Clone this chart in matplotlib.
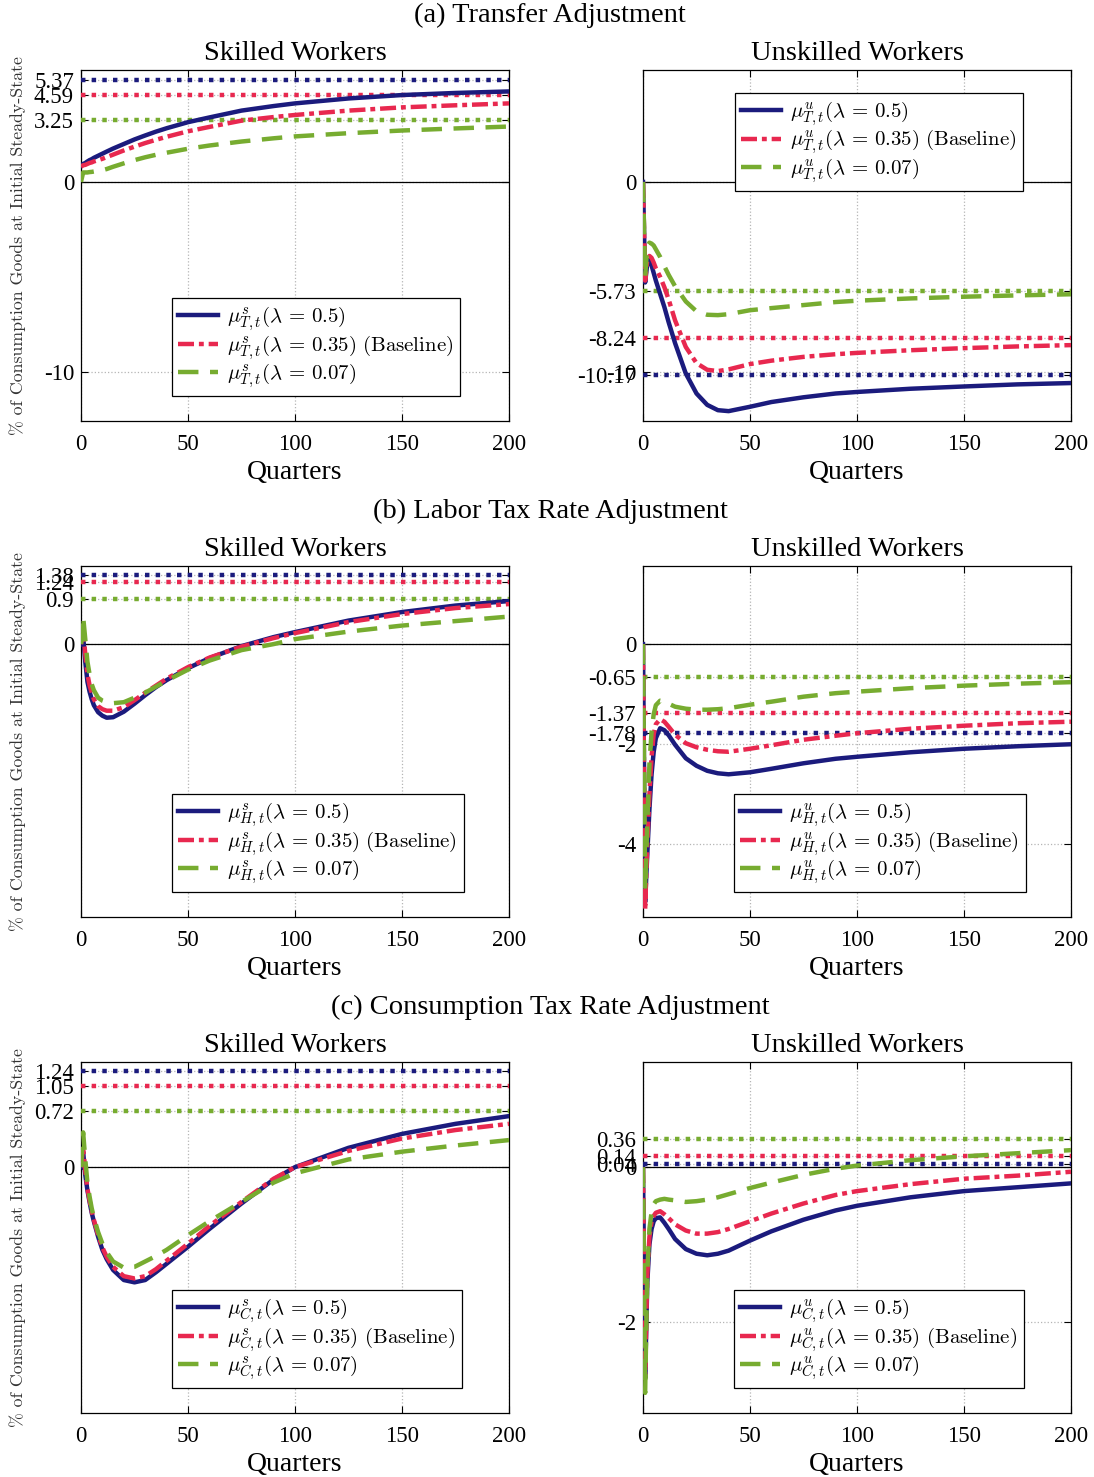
import matplotlib.pyplot as plt

plt.rcParams['font.family'] = ['Liberation Serif', 'DejaVu Serif']
plt.rcParams['mathtext.fontset'] = 'cm'
plt.rcParams['axes.unicode_minus'] = False

quarters = [0, 1, 2, 3, 4, 5, 6, 8, 10, 12, 15, 20, 25, 30, 35, 40, 50, 60, 75, 90, 100, 125, 150, 175, 200]
lambdas = ['0.5', '0.35', '0.07']

# (a) transfer adjustment
transfer_skilled_05 = [0.85, 0.95, 1.0, 1.08, 1.15, 1.2, 1.27, 1.38, 1.49, 1.6, 1.76, 2.0, 2.24, 2.45, 2.65, 2.83,
                       3.15, 3.4, 3.76, 4.0, 4.14, 4.4, 4.58, 4.69, 4.77]
transfer_skilled_035 = [0.8, 0.88, 0.9, 0.95, 1.0, 1.03, 1.08, 1.15, 1.22, 1.31, 1.44, 1.66, 1.86, 2.05, 2.22, 2.38,
                        2.67, 2.9, 3.23, 3.42, 3.53, 3.76, 3.93, 4.04, 4.14]
transfer_skilled_007 = [0.0, 0.5, 0.5, 0.5, 0.52, 0.53, 0.55, 0.58, 0.62, 0.68, 0.8, 0.98, 1.15, 1.3, 1.43, 1.54,
                        1.75, 1.92, 2.13, 2.3, 2.4, 2.57, 2.71, 2.82, 2.92]
transfer_unskilled_05 = [0, -5.3, -4.3, -4.1, -4.4, -4.8, -5.2, -5.9, -6.6, -7.4, -8.5, -10.1, -11.15, -11.75, -12.03,
                         -12.08, -11.85, -11.6, -11.35, -11.15, -11.07, -10.9, -10.78, -10.67, -10.6]
transfer_unskilled_035 = [0, -5.2, -4.1, -3.9, -4.0, -4.25, -4.55, -5.0, -5.55, -6.2, -7.3, -8.7, -9.55, -9.9, -9.97,
                          -9.88, -9.6, -9.42, -9.22, -9.08, -9.01, -8.87, -8.76, -8.67, -8.6]
transfer_unskilled_007 = [0, -5.0, -3.4, -3.2, -3.25, -3.35, -3.55, -3.95, -4.45, -4.9, -5.5, -6.3, -6.82, -7.0, -7.02,
                          -6.97, -6.76, -6.65, -6.49, -6.33, -6.26, -6.14, -6.05, -5.98, -5.92]
transfer_skilled_lr = [5.37, 4.59, 3.25]
transfer_unskilled_lr = [-10.17, -8.24, -5.73]

# (b) labor tax rate adjustment
labor_skilled_05 = [0, 0.15, -0.35, -0.75, -0.95, -1.1, -1.22, -1.36, -1.43, -1.47, -1.46, -1.35, -1.19, -1.02, -0.86,
                    -0.72, -0.48, -0.28, -0.04, 0.14, 0.24, 0.47, 0.64, 0.77, 0.86]
labor_skilled_035 = [0, 0.28, -0.2, -0.6, -0.82, -0.97, -1.1, -1.24, -1.3, -1.33, -1.33, -1.26, -1.12, -0.97, -0.83,
                     -0.69, -0.46, -0.27, -0.05, 0.12, 0.22, 0.44, 0.6, 0.72, 0.8]
labor_skilled_007 = [0, 0.55, 0.1, -0.35, -0.6, -0.8, -0.92, -1.07, -1.13, -1.16, -1.18, -1.16, -1.07, -0.97, -0.85,
                     -0.73, -0.51, -0.33, -0.12, 0.0, 0.1, 0.25, 0.37, 0.46, 0.55]
labor_unskilled_05 = [0, -5.15, -4.2, -3.3, -2.6, -2.15, -1.88, -1.68, -1.72, -1.82, -2.01, -2.28, -2.43, -2.53, -2.58,
                      -2.6, -2.56, -2.49, -2.38, -2.29, -2.25, -2.16, -2.09, -2.04, -2.0]
labor_unskilled_035 = [0, -5.3, -4.0, -3.0, -2.25, -1.8, -1.6, -1.5, -1.55, -1.65, -1.81, -1.98, -2.06, -2.11, -2.14,
                       -2.15, -2.09, -2.02, -1.91, -1.83, -1.78, -1.69, -1.63, -1.58, -1.55]
labor_unskilled_007 = [0, -4.9, -3.6, -2.4, -1.75, -1.4, -1.22, -1.13, -1.15, -1.19, -1.25, -1.29, -1.31, -1.31, -1.3,
                       -1.28, -1.21, -1.15, -1.05, -0.98, -0.95, -0.88, -0.83, -0.79, -0.76]
labor_skilled_lr = [1.38, 1.24, 0.9]
labor_unskilled_lr = [-1.78, -1.37, -0.65]

# (c) consumption tax rate adjustment
cons_skilled_05 = [0, 0.2, -0.1, -0.3, -0.45, -0.59, -0.7, -0.9, -1.07, -1.19, -1.33, -1.46, -1.49, -1.46, -1.36,
                   -1.25, -1.03, -0.8, -0.47, -0.16, 0.0, 0.25, 0.43, 0.56, 0.66]
cons_skilled_035 = [0, 0.25, -0.05, -0.28, -0.43, -0.57, -0.68, -0.88, -1.04, -1.16, -1.29, -1.41, -1.44, -1.41, -1.32,
                    -1.21, -0.99, -0.76, -0.45, -0.15, 0.0, 0.21, 0.37, 0.48, 0.56]
cons_skilled_007 = [0, 0.45, 0.1, -0.2, -0.38, -0.53, -0.65, -0.84, -0.99, -1.1, -1.22, -1.3, -1.29, -1.22, -1.15,
                    -1.07, -0.88, -0.7, -0.45, -0.2, -0.08, 0.1, 0.2, 0.28, 0.35]
cons_unskilled_05 = [0, -2.73, -1.5, -1.0, -0.8, -0.7, -0.66, -0.65, -0.72, -0.8, -0.93, -1.06, -1.12, -1.14, -1.12,
                     -1.08, -0.95, -0.83, -0.68, -0.56, -0.5, -0.39, -0.31, -0.26, -0.21]
cons_unskilled_035 = [0, -2.7, -1.4, -0.9, -0.7, -0.63, -0.59, -0.57, -0.61, -0.66, -0.74, -0.82, -0.86, -0.86, -0.84,
                      -0.8, -0.7, -0.6, -0.47, -0.36, -0.31, -0.22, -0.15, -0.11, -0.06]
cons_unskilled_007 = [0, -2.92, -1.35, -0.8, -0.58, -0.48, -0.44, -0.42, -0.41, -0.42, -0.43, -0.45, -0.44, -0.42,
                      -0.39, -0.35, -0.27, -0.2, -0.1, -0.02, 0.02, 0.09, 0.14, 0.18, 0.22]
cons_skilled_lr = [1.24, 1.05, 0.72]
cons_unskilled_lr = [0.04, 0.14, 0.36]

section_titles = ['(a) Transfer Adjustment', '(b) Labor Tax Rate Adjustment',
                  '(c) Consumption Tax Rate Adjustment']
instruments = ['T', 'H', 'C']
ylims = [(-12.6, 5.9), (-5.45, 1.56), (-3.18, 1.36)]

panels = [
    [('s', [transfer_skilled_05, transfer_skilled_035, transfer_skilled_007], transfer_skilled_lr,
      [-10, 0, 3.25, 4.59, 5.37], 'lower'),
     ('u', [transfer_unskilled_05, transfer_unskilled_035, transfer_unskilled_007], transfer_unskilled_lr,
      [-10.17, -10, -8.24, -5.73, 0], 'upper')],
    [('s', [labor_skilled_05, labor_skilled_035, labor_skilled_007], labor_skilled_lr,
      [0, 0.9, 1.24, 1.38], 'lower'),
     ('u', [labor_unskilled_05, labor_unskilled_035, labor_unskilled_007], labor_unskilled_lr,
      [-4, -2, -1.78, -1.37, -0.65, 0], 'lower')],
    [('s', [cons_skilled_05, cons_skilled_035, cons_skilled_007], cons_skilled_lr,
      [0, 0.72, 1.05, 1.24], 'lower'),
     ('u', [cons_unskilled_05, cons_unskilled_035, cons_unskilled_007], cons_unskilled_lr,
      [-2, 0, 0.04, 0.14, 0.36], 'lower')],
]

colors = ['#1b1b7d', '#e8284f', '#77ac30']
styles = [dict(linestyle='-'),
          dict(linestyle=(0, (3.6, 1.1, 1.1, 1.1))),
          dict(linestyle=(0, (4.6, 2.6)))]

fig = plt.figure(figsize=(10.94, 14.77), dpi=100)
W, H = 1094, 1477
ax_left = [81, 643]
ax_top = [70, 566, 1062]
ax_w, ax_h = 428, 351
title_y = [15, 511, 1007]

for r, row in enumerate(panels):
    fig.text(550 / W, 1 - title_y[r] / H, section_titles[r], ha='center', va='center', fontsize=20.5)
    for c, (grp, series, longrun, yticks, legpos) in enumerate(row):
        ax = fig.add_axes([ax_left[c] / W, 1 - (ax_top[r] + ax_h) / H, ax_w / W, ax_h / H])
        ax.set_axisbelow(True)
        ax.grid(True, linestyle=':', color='#b5b5b5', linewidth=0.9)
        ax.axhline(0, color='black', linewidth=0.9, zorder=2)
        for v, col in zip(longrun, colors):
            ax.axhline(v, color=col, linestyle=(0, (1, 1.4)), linewidth=3.2, zorder=3)
        for vals, col, st, lam in zip(series, colors, styles, lambdas):
            lab = r'$\mu^{%s}_{%s,t}(\lambda\,=\,%s)$' % (grp, instruments[r], lam)
            if lam == '0.35':
                lab = r'$\mu^{%s}_{%s,t}(\lambda\,=\,%s)\ \mathrm{(Baseline)}$' % (grp, instruments[r], lam)
            ax.plot(quarters, vals, color=col, linewidth=3.2, label=lab, zorder=4, **st)
        ax.set_xlim(0, 200)
        ax.set_ylim(*ylims[r])
        ax.set_xticks([0, 50, 100, 150, 200])
        ax.set_yticks(yticks)
        ax.set_yticklabels(['%g' % v for v in yticks])
        ax.tick_params(direction='in', top=True, right=True, length=5, width=0.8, labelsize=16.5)
        ax.tick_params(axis='x', pad=9)
        ax.tick_params(axis='y', pad=5)
        for sp in ax.spines.values():
            sp.set_linewidth(0.9)
        ax.set_title('Skilled Workers' if grp == 's' else 'Unskilled Workers', fontsize=20.5, pad=7)
        ax.set_xlabel('Quarters', fontsize=20, labelpad=4)
        if legpos == 'lower':
            anchor, loc = (0.213, 0.07), 'lower left'
        else:
            anchor, loc = (0.215, 0.935), 'upper left'
        leg = ax.legend(loc=loc, bbox_to_anchor=anchor, fontsize=15, handlelength=1.9,
                        handletextpad=0.45, labelspacing=0.0, borderpad=0.3, borderaxespad=0,
                        fancybox=False, framealpha=1, edgecolor='black')
        leg.get_frame().set_linewidth(0.9)
        leg.set_zorder(10)
    fig.text(18 / W, 1 - (ax_top[r] + ax_h / 2) / H, '% of Consumption Goods at Initial Steady-State',
             rotation=90, ha='center', va='center', fontsize=12.8, family=['cmr10', 'DejaVu Serif'],
             color='#333333')

fig.savefig('out.png', dpi=100)
